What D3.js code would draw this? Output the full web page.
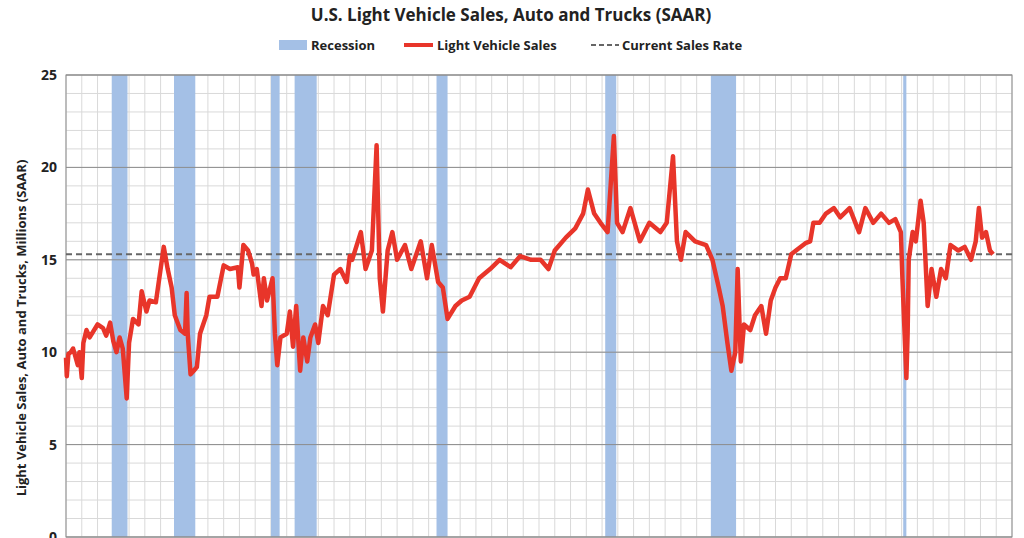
<!DOCTYPE html>
<html><head><meta charset="utf-8">
<script src="https://cdn.jsdelivr.net/npm/d3@7"></script>
<style>body{margin:0;background:#fff;font-family:"Open Sans",sans-serif}</style>
</head><body><svg id="c" width="1024" height="538"></svg>
<script>
const title = "U.S. Light Vehicle Sales, Auto and Trucks (SAAR)";
const yLabel = "Light Vehicle Sales, Auto and Trucks, Millions (SAAR)";
const legendLabels = ["Recession", "Light Vehicle Sales", "Current Sales Rate"];
const yTicks = [0,5,10,15,20,25];
const currentRate = 15.3;
const recStart = [1969.9,1973.85,1980.0,1981.5,1990.5,2001.2,2007.9,2020.1];
const recEnd   = [1970.9,1975.2,1980.55,1982.9,1991.2,2001.9,2009.5,2020.3];
const dates = [1967.0,1967.05,1967.15,1967.3,1967.45,1967.75,1967.85,1968.0,1968.1,1968.3,1968.5,1969.0,1969.35,1969.55,1969.8,1970.0,1970.2,1970.4,1970.6,1970.85,1971.0,1971.25,1971.6,1971.8,1972.1,1972.3,1972.7,1973.2,1973.45,1973.7,1973.9,1974.25,1974.55,1974.65,1974.72,1974.9,1975.1,1975.3,1975.5,1975.9,1976.1,1976.6,1977.0,1977.4,1977.9,1978.0,1978.25,1978.55,1978.8,1978.9,1979.1,1979.4,1979.55,1979.75,1980.1,1980.25,1980.4,1980.6,1981.0,1981.2,1981.4,1981.6,1981.85,1982.05,1982.3,1982.5,1982.8,1983.0,1983.3,1983.6,1984.0,1984.4,1984.8,1985.0,1985.15,1985.7,1986.0,1986.4,1986.7,1986.9,1987.1,1987.4,1987.7,1988.0,1988.5,1988.9,1989.5,1989.9,1990.2,1990.6,1990.9,1991.2,1991.7,1992.1,1992.6,1993.2,1993.9,1994.5,1995.2,1995.8,1996.5,1997.1,1997.6,1998.0,1998.7,1999.3,1999.8,2000.1,2000.5,2000.9,2001.35,2001.75,2001.95,2002.3,2002.8,2003.4,2004.0,2004.7,2005.1,2005.5,2005.75,2006.0,2006.3,2006.9,2007.6,2008.0,2008.4,2008.65,2008.95,2009.2,2009.45,2009.6,2009.8,2010.0,2010.4,2010.7,2011.1,2011.4,2011.7,2012.0,2012.3,2012.65,2013.0,2013.3,2013.9,2014.2,2014.4,2014.8,2015.2,2015.7,2016.1,2016.7,2017.3,2017.7,2018.2,2018.7,2019.2,2019.6,2019.95,2020.05,2020.3,2020.38,2020.45,2020.7,2020.9,2021.2,2021.4,2021.65,2021.9,2022.2,2022.5,2022.8,2023.1,2023.6,2024.0,2024.4,2024.7,2024.9,2025.1,2025.35,2025.6,2025.8];
const sales = [9.7,8.7,9.9,10.0,10.2,9.3,10.0,8.6,10.5,11.2,10.8,11.5,11.3,10.9,11.6,10.6,10.0,10.8,10.2,7.5,10.5,11.8,11.5,13.3,12.2,12.8,12.7,15.7,14.5,13.5,12.0,11.2,11.0,13.2,11.0,8.8,9.0,9.2,11.0,12.0,13.0,13.0,14.7,14.5,14.6,13.5,15.8,15.5,14.8,14.2,14.5,12.5,14.0,12.8,14.0,11.0,9.3,10.8,11.0,12.2,10.3,12.5,9.0,10.8,9.5,10.8,11.5,10.5,12.5,12.0,14.2,14.5,13.8,15.2,15.0,16.5,14.5,15.5,21.2,14.0,12.2,15.5,16.5,15.0,15.8,14.5,16.0,14.0,15.8,13.8,13.5,11.8,12.5,12.8,13.0,14.0,14.5,15.0,14.6,15.2,15.0,15.0,14.5,15.5,16.2,16.7,17.5,18.8,17.5,17.0,16.5,21.7,17.0,16.5,17.8,16.0,17.0,16.5,17.0,20.6,16.0,15.0,16.5,16.0,15.8,15.0,13.5,12.5,10.5,9.0,10.0,14.5,9.5,11.5,11.2,12.0,12.5,11.0,12.8,13.5,14.0,14.0,15.3,15.5,15.9,16.0,17.0,17.0,17.5,17.8,17.3,17.8,16.5,17.8,17.0,17.5,17.0,17.2,16.5,14.0,8.6,11.0,15.0,16.5,16.0,18.2,17.0,12.5,14.5,13.0,14.5,14.0,15.8,15.5,15.7,15.0,16.0,17.8,16.2,16.5,15.5,15.3];

const svg = d3.select("#c");
const L=66,R=1012,T=75,B=537;
const x = d3.scaleLinear().domain([1967,2027]).range([L,R]);
const y = d3.scaleLinear().domain([0,25]).range([B,T]);
const FF = "'Open Sans',sans-serif";

const g = svg.append("g");
g.selectAll(".vx").data(d3.range(1967,2028)).join("line")
 .attr("x1",d=>x(d)).attr("x2",d=>x(d)).attr("y1",T).attr("y2",B)
 .attr("stroke","#d9d9d9").attr("stroke-width",1);
g.selectAll(".hy").data(d3.range(0,26)).join("line")
 .attr("x1",L).attr("x2",R).attr("y1",d=>y(d)).attr("y2",d=>y(d))
 .attr("stroke","#d9d9d9").attr("stroke-width",1);
g.selectAll(".rec").data(recStart).join("rect")
 .attr("x",(d)=>x(d)).attr("width",(d,i)=>Math.max(2,x(recEnd[i])-x(d)))
 .attr("y",T).attr("height",B-T).attr("fill","#a4c0e6");
g.selectAll(".maj").data(yTicks).join("line")
 .attr("x1",L).attr("x2",R).attr("y1",d=>y(d)).attr("y2",d=>y(d))
 .attr("stroke","#8c8c8c").attr("stroke-width",1);
g.append("rect").attr("x",L).attr("y",T).attr("width",R-L).attr("height",B-T)
 .attr("fill","none").attr("stroke","#8c8c8c");
g.append("line").attr("x1",L).attr("x2",R).attr("y1",y(currentRate)).attr("y2",y(currentRate))
 .attr("stroke","#666").attr("stroke-width",2).attr("stroke-dasharray","6,4");
const pts = dates.map((d,i)=>[d,sales[i]]);
g.append("path").datum(pts).attr("fill","none").attr("stroke","#e8352a").attr("stroke-width",4.5)
 .attr("stroke-linejoin","round")
 .attr("d",d3.line().x(d=>x(d[0])).y(d=>y(d[1])));
const ya = svg.append("g").attr("transform",`translate(${L},0)`)
 .call(d3.axisLeft(y).tickValues(yTicks).tickSize(0).tickPadding(9));
ya.select(".domain").remove();
ya.selectAll("text").attr("font-size",14).attr("font-weight","bold").attr("fill","#222").attr("font-family",FF);
svg.append("text").attr("transform",`translate(26,${(T+B)/2+22}) rotate(-90)`).attr("font-family",FF)
 .attr("text-anchor","middle").attr("font-size",13).attr("font-weight","bold").attr("fill","#222").text(yLabel);
svg.append("text").attr("x",511).attr("y",21).attr("text-anchor","middle").attr("font-family",FF)
 .attr("font-size",17).attr("font-weight","bold").attr("fill","#222").text(title);
const lg = svg.append("g").attr("font-size",13).attr("font-weight","bold").attr("fill","#222").attr("font-family",FF);
lg.append("rect").attr("x",279).attr("y",40).attr("width",28).attr("height",10).attr("fill","#a4c0e6");
lg.append("text").attr("x",311).attr("y",50).text(legendLabels[0]);
lg.append("line").attr("x1",404).attr("x2",433).attr("y1",45).attr("y2",45).attr("stroke","#e8352a").attr("stroke-width",4);
lg.append("text").attr("x",437).attr("y",50).text(legendLabels[1]);
lg.append("line").attr("x1",591).attr("x2",619).attr("y1",45).attr("y2",45).attr("stroke","#666").attr("stroke-width",2).attr("stroke-dasharray","5,3");
lg.append("text").attr("x",622).attr("y",50).text(legendLabels[2]);
</script></body></html>
